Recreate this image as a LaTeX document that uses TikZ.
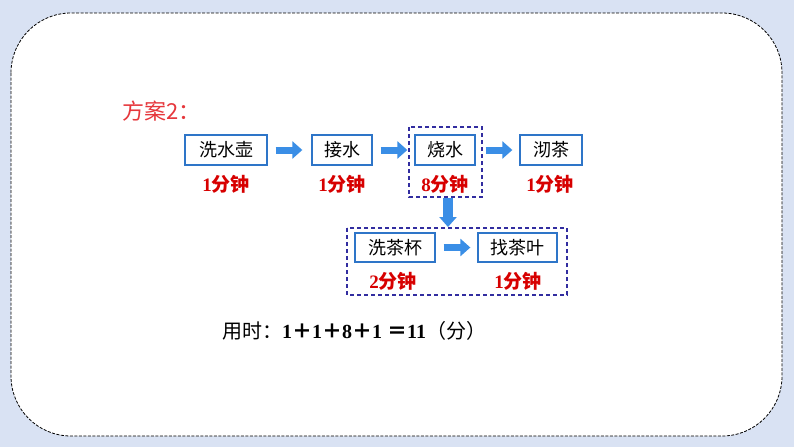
\documentclass[tikz,border=0pt]{standalone}
\usepackage{fontspec}
\setmainfont{Liberation Serif}
\newfontfamily\cjk{Noto Sans CJK SC}
\newfontfamily\lserif{Liberation Serif}
\usetikzlibrary{arrows.meta}
\definecolor{bgblue}{RGB}{217,226,243}
\definecolor{boxblue}{RGB}{46,117,200}
\definecolor{arrblue}{RGB}{58,142,230}
\definecolor{dashblue}{RGB}{50,45,160}
\definecolor{labred}{RGB}{215,0,0}
\definecolor{titred}{RGB}{230,55,60}
\newcommand{\tlab}[1]{{\lserif\bfseries #1}{\cjk\bfseries 分钟}}
\tikzset{
  stepbox/.style={draw=boxblue, line width=1.3pt, fill=white, inner sep=0pt, minimum height=30pt, font=\cjk\fontsize{18}{18}\selectfont},
  timelab/.style={text=labred, inner sep=0pt, font=\fontsize{19}{19}\selectfont},
  dbox/.style={draw=dashblue, dashed, line width=1.1pt, dash pattern=on 4pt off 3pt},
  barrow/.style={draw=arrblue, line width=7pt, -{Triangle[width=17pt,length=10pt]}, shorten <=8pt, shorten >=7pt}
}
\begin{document}
\begin{tikzpicture}[x=1pt,y=-1pt]
\useasboundingbox (0,0) rectangle (794,447);
\fill[bgblue] (0,0) rectangle (794,447);
\draw[fill=white, dashed, dash pattern=on 3pt off 1.5pt, line width=0.8pt, rounded corners=60pt] (11,13) rectangle (782,436);
\node[anchor=west, text=titred, inner sep=0pt, font=\cjk\fontsize{22}{22}\selectfont] (title) at (122,111) {方案2：};
% dashed groups
\draw[dbox] (409,127) rectangle (482,197);
\coordinate (d1b) at (448,197);
\draw[dbox] (347,228) rectangle (567,295);
\coordinate (d2t) at (448,228);
% step boxes
\node[stepbox, minimum width=82pt] (b1) at (226,150) {洗水壶};
\node[stepbox, minimum width=60pt] (b2) at (342,150) {接水};
\node[stepbox, minimum width=60pt] (b3) at (445,150) {烧水};
\node[stepbox, minimum width=62pt] (b4) at (551,150) {沏茶};
\node[stepbox, minimum width=80pt, minimum height=29pt] (b5) at (395,247.5) {洗茶杯};
\node[stepbox, minimum width=79pt, minimum height=29pt] (b6) at (517.5,247.5) {找茶叶};
% time labels
\node[timelab] (t1) at (226,184) {\tlab{1}};
\node[timelab] (t2) at (342,184) {\tlab{1}};
\node[timelab] (t3) at (445,184) {\tlab{8}};
\node[timelab] (t4) at (550,184) {\tlab{1}};
\node[timelab] (t5) at (393,281) {\tlab{2}};
\node[timelab] (t6) at (518,281) {\tlab{1}};
% arrows
\draw[barrow, shorten >=9pt] (b1) -- (b2);
\draw[barrow, shorten >=7pt] (b2) -- (b3);
\draw[barrow, shorten <=10pt] (b3) -- (b4);
\draw[barrow] (b5) -- (b6);
\draw[barrow, line width=10pt, shorten <=1pt, shorten >=1pt] (d1b) -- (d2t);
% total
\node[anchor=west, inner sep=0pt, font=\fontsize{20}{20}\selectfont] (total) at (222,331) {{\cjk 用时：}{\bfseries 1}{\cjk\bfseries ＋}{\bfseries 1}{\cjk\bfseries ＋}{\bfseries 8}{\cjk\bfseries ＋}{\bfseries 1 }{\cjk\bfseries ＝}{\bfseries 11}{\cjk （分）}};
\end{tikzpicture}
\end{document}
